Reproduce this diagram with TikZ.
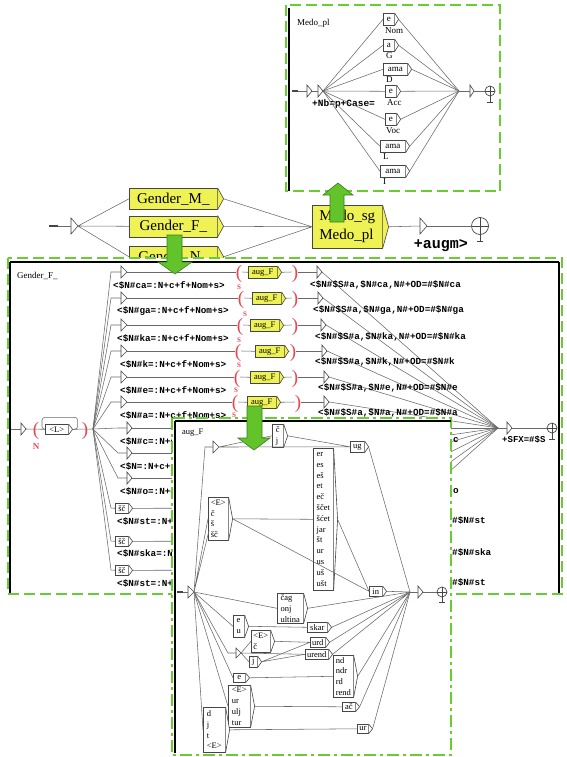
\documentclass[tikz,border=0pt]{standalone}
\usepackage{fontspec}
\setmainfont{Liberation Serif}
\newfontfamily\lmono{Liberation Mono}
\usetikzlibrary{calc}
\definecolor{frg}{RGB}{104,206,48}
\definecolor{arg}{RGB}{98,196,42}
\definecolor{ard}{RGB}{60,125,28}
\definecolor{ylw}{RGB}{238,242,85}
\definecolor{bxc}{RGB}{70,70,70}
\definecolor{lnc}{RGB}{105,105,105}
\definecolor{rdc}{RGB}{232,70,80}
\newcommand{\ot}{\lmono\bfseries\fontsize{9.3}{10}\selectfont}
\newcommand{\bt}{\fontsize{8.5}{10.8}\selectfont}
\newcommand{\bigt}{\fontsize{15}{19}\selectfont}
\newcommand{\mdt}{\fontsize{9}{10}\selectfont}
\def\chw{4pt}
\tikzset{
  ln/.style={draw=lnc, line width=0.55pt},
  bx/.style={draw=bxc, line width=0.6pt, inner sep=0.5pt, align=left, font=\bt, anchor=north west},
  otx/.style={font=\ot, inner sep=0pt, anchor=west},
  lbl/.style={font=\fontsize{9}{10}\selectfont, inner sep=0pt, anchor=north west},
  frm/.style={draw=frg, line width=2pt, dash pattern=on 11pt off 5pt, fill=white},
  frmdd/.style={draw=frg, line width=2pt, dash pattern=on 12pt off 4pt on 3pt off 4pt, fill=white},
  win/.style={draw=black, line width=1.2pt},
  garr/.style={fill=arg, draw=ard, line width=0.6pt},
  rpar/.style={text=rdc, font=\fontsize{19}{19}\selectfont, inner sep=0pt},
  rS/.style={text=rdc, font=\bfseries\fontsize{7}{7}\selectfont, inner sep=0pt},
}
% box with chevron: [style]{name}{x0}{y0}{w}{h}{text}
\newcommand{\UB}[7][fill=white]{%
  \node[bx, #1, minimum width=#5pt, minimum height=#6pt] (#2) at (#3,#4) {#7};
  \draw[draw=bxc, line width=0.6pt, fill=white, #1] (#2.north east) -- ([xshift=\chw]#2.east) -- (#2.south east);
  \coordinate (#2-o) at ([xshift=\chw]#2.east);
}
% epsilon triangle: {name}{x}{y}{w}{h}
\newcommand{\ET}[5]{%
  \coordinate (#1) at (#2,#3);
  \coordinate (#1-o) at ({#2+#4},#3);
  \draw[draw=bxc, line width=0.6pt, fill=white] (#2,{#3-#5}) -- (#1-o) -- (#2,{#3+#5}) -- cycle;
}
% final state: {name}{x}{y}{r}{stem}
\newcommand{\FS}[5]{%
  \coordinate (#1) at ({#2-#4},#3);
  \draw[draw=bxc, line width=0.7pt, fill=white] (#2,#3) circle[radius=#4pt];
  \draw[draw=bxc, line width=0.7pt] ({#2-#4},#3) -- ({#2+#4},#3) (#2,{#3-#4}) -- (#2,{#3+#4+#5}) ({#2-3},{#3+#4+#5}) -- ({#2+3},{#3+#4+#5});
}
\begin{document}
\begin{tikzpicture}[x=1pt,y=-1pt]
\fill[white] (0,0) rectangle (567,757);
\useasboundingbox (0,0) rectangle (567,757);

% ================= main graph =================
\def\chw{6pt}
\UB[fill=ylw, font=\bigt]{gm}{129}{188}{88}{21}{Gender\_M\_}
\UB[fill=ylw, font=\bigt]{gf}{129}{215.5}{88}{21}{Gender\_F\_}
\UB[fill=ylw, font=\bigt]{gn}{129}{246}{88}{21}{Gender\_N\_}
\UB[fill=ylw, font=\bigt]{medo}{312}{205}{70}{43}{Medo\_sg\\Medo\_pl}
\coordinate (m0) at (49,226);
\coordinate (m1) at (58,226);
\draw[draw=bxc, line width=1.6pt] (m0) -- (m1);
\ET{mt}{71}{226}{7}{8}
\draw[ln] (m1) -- (mt);
\draw[ln] (mt-o) -- (gm.west) (mt-o) -- (gf.west) (mt-o) -- (gn.west);
\draw[ln] (gm-o) -- (medo.west) (gf-o) -- (medo.west) (gn-o) -- (medo.west);
\ET{mt2}{420}{226}{7}{8}
\draw[ln] (medo-o) -- (mt2);
\FS{mf}{480}{226}{8.5}{7}
\draw[ln] (mt2-o) -- (mf);
\node[font=\lmono\bfseries\fontsize{15}{15}\selectfont, anchor=east, inner sep=0pt] (augm) at (468,246) {+augm>};

% ================= Medo_pl window =================
\def\chw{4pt}
\draw[frm] (286,5.5) rectangle (500,191);
\draw[win] (289,8) -- (289,191);
\node[lbl, anchor=west] (tmedo) at (297,23) {Medo\_pl};
\coordinate (p0) at (292,91);
\coordinate (p1) at (298,91);
\draw[draw=bxc, line width=1.6pt] (p0) -- (p1);
\ET{pt1}{307}{91}{5}{6}
\ET{pt2}{318}{91}{5}{6}
\draw[ln] (p1) -- (pt1) (pt1-o) -- (pt2);
\node[font=\lmono\bfseries\fontsize{9.5}{10}\selectfont, inner sep=0pt, anchor=west] (nbp) at (312,104) {+Nb=p+Case=};
\UB[font=\mdt]{pe1}{383}{13}{11}{12}{e}
\UB[font=\mdt]{pa}{383}{39}{11}{12}{a}
\UB[font=\mdt]{pama1}{383}{63}{24}{12}{ama}
\UB[font=\mdt]{pe2}{385}{85}{11}{12}{e}
\UB[font=\mdt]{pe3}{385}{113}{11}{12}{e}
\UB[font=\mdt]{pama2}{380}{140}{25}{12}{ama}
\UB[font=\mdt]{pama3}{380}{165}{25}{12}{ama}
\node[lbl] (lnom) at (385,27) {Nom};
\node[lbl] (lg) at (386,52) {G};
\node[lbl] (ld) at (386,76) {D};
\node[lbl] (lacc) at (387,99) {Acc};
\node[lbl] (lvoc) at (386,127) {Voc};
\node[lbl] (ll) at (383,153) {L};
\node[lbl] (li) at (383,178) {I};
\coordinate (pc) at (459,91);
\foreach \b in {pe1,pa,pama1,pe2,pe3,pama2,pama3}{
  \draw[ln] (pt2-o) -- (\b.west);
  \draw[ln] (\b-o) -- (pc);
}
\ET{pt3}{470}{91}{4}{6}
\draw[ln] (pc) -- (pt3);
\FS{pf}{490}{91}{5}{6}
\draw[ln] (pt3-o) -- (pf);

% ================= Gender_F_ window =================
\draw[frm] (8,258) rectangle (562,594);
\draw[win] (10,262) -- (559,262);
\draw[win] (10,262) -- (10,593);
\draw[win] (559,262) -- (559,593);
\node[lbl, anchor=west] (tgf) at (17,276) {Gender\_F\_};
\coordinate (g0) at (11,429);
\ET{ge}{21}{429}{5}{6}
\draw[ln] (g0) -- (ge);
\UB{gL}{45}{424}{23}{10}{<L>}
\draw[ln] (ge-o) -- (gL.west);
\draw[ln, rounded corners=3pt] (gL-o) -- ++(5,0) |- ($(gL.west)+(-3,-12)$) |- (gL.west);
\coordinate (gfan) at (93,429);
\draw[ln] (gL-o) -- (gfan);
\node[rpar] (gp1) at (36,431) {(};
\node[rpar] (gp2) at (85,431) {)};
\node[text=rdc, font=\bfseries\fontsize{9}{9}\selectfont, inner sep=0pt] (gN) at (36,447) {N};
\coordinate (gc) at (498,428);

% rows 1-6
\foreach \i/\y/\bx/\lp/\rp/\rx in {1/272/248/239/295/317, 2/298/252/241/295/318, 3/325/250/240/295/321, 4/351/255/238/293/322, 5/377/250/237/295/324, 6/402/247/235/298/324}{
  \coordinate (s\i) at (111,\y);
  \ET{t\i}{121}{\y}{6}{6}
  \draw[ln] (gfan) -- (s\i) -- (t\i);
  \UB[fill=ylw]{ag\i}{\bx}{\y-6}{29}{12}{aug\_F}
  \node[rpar] (lp\i) at (\lp,\y+2) {(};
  \node[rpar] (rp\i) at (\rp,\y+2) {)};
  \ET{r\i}{\rx}{\y}{5}{6}
  \draw[ln] (t\i-o) -- (lp\i.west |- t\i-o);
  \draw[ln] (lp\i.east |- t\i-o) -- (ag\i.west);
  \draw[ln] (ag\i-o) -- (rp\i.west |- t\i-o);
  \draw[ln] (rp\i.east |- t\i-o) -- (r\i);
  \draw[ln] (r\i-o) -- (gc);
}
\node[rS] (S2) at (239,287) {S};
\node[rS] (S3) at (245,314) {S};
\node[rS] (S4) at (239,340) {S};
\node[rS] (S5) at (239,365) {S};
\node[rS] (S6) at (236,390) {S};
\node[rS] (S7) at (234,415) {S};
% rows 7-9
\foreach \i/\y in {7/428, 8/453, 9/478}{
  \coordinate (s\i) at (118,\y);
  \ET{t\i}{127}{\y}{5}{6}
  \draw[ln] (gfan) -- (s\i) -- (t\i);
  \ET{r\i}{322}{\y}{5}{6}
  \draw[ln] (t\i-o) -- (r\i);
  \draw[ln] (r\i-o) -- (gc);
}
% rows 10-12
\foreach \i/\y in {10/508, 11/541, 12/570}{
  \coordinate (s\i) at (111,\y);
  \UB{b\i}{115}{\y-5}{13}{10}{šč}
  \draw[ln] (gfan) -- (s\i) -- (b\i.west);
  \ET{r\i}{335}{\y}{5}{6}
  \draw[ln] (b\i-o) -- (r\i);
  \draw[ln] (r\i-o) -- (gc);
}
% left outputs
\node[otx] (lt1) at (113,285) {<\$N\#ca=:N+c+f+Nom+s>};
\node[otx] (lt2) at (117,311) {<\$N\#ga=:N+c+f+Nom+s>};
\node[otx] (lt3) at (117,338) {<\$N\#ka=:N+c+f+Nom+s>};
\node[otx] (lt4) at (120,364) {<\$N\#k=:N+c+f+Nom+s>};
\node[otx] (lt5) at (120,390) {<\$N\#e=:N+c+f+Nom+s>};
\node[otx] (lt6) at (120,415) {<\$N\#a=:N+c+f+Nom+s>};
\node[otx] (lt7) at (120,441) {<\$N\#c=:N+c};
\node[otx] (lt8) at (120,466) {<\$N=:N+c+};
\node[otx] (lt9) at (120,491) {<\$N\#o=:N+c};
\node[otx] (lt10) at (117,521) {<\$N\#st=:N+};
\node[otx] (lt11) at (117,553) {<\$N\#ska=:N};
\node[otx] (lt12) at (117,583) {<\$N\#st=:N+};
% right outputs
\node[otx] (rt1) at (310,285) {<\$N\#\$S\#a,\$N\#ca,N\#+OD=\#\$N\#ca};
\node[otx] (rt2) at (313,310) {<\$N\#\$S\#a,\$N\#ga,N\#+OD=\#\$N\#ga};
\node[otx] (rt3) at (315,337) {<\$N\#\$S\#a,\$N\#ka,N\#+OD=\#\$N\#ka};
\node[otx] (rt4) at (315,362) {<\$N\#\$S\#a,\$N\#k,N\#+OD=\#\$N\#k};
\node[otx] (rt5) at (318,388) {<\$N\#\$S\#a,\$N\#e,N\#+OD=\#\$N\#e};
\node[otx] (rt6) at (318,413) {<\$N\#\$S\#a,\$N\#a,N\#+OD=\#\$N\#a};
\node[otx] (rt7) at (453,440) {c};
\node[otx] (rt9) at (453,491) {o};
\node[otx] (rt10) at (452,520) {\#\$N\#st};
\node[otx] (rt11) at (452,552) {\#\$N\#ska};
\node[otx] (rt12) at (452,582) {\#\$N\#st};
\ET{gft}{507}{428}{5}{6}
\draw[ln] (gc) -- (gft);
\FS{gff}{552}{428}{5}{6}
\draw[ln] (gft-o) -- (gff);
\node[otx, font=\lmono\bfseries\fontsize{9}{10}\selectfont] (sfx) at (502,440) {+SFX=\#\$S};

% ================= aug_F window =================
\draw[frmdd] (172,418) rectangle (451,755);
\draw[win] (175,421) -- (451,421);
\draw[win] (175,421) -- (175,753);
\node[lbl, anchor=west, font=\fontsize{8.5}{10}\selectfont] (taug) at (182,433) {aug\_F};
\coordinate (a0) at (177,592);
\coordinate (a1) at (183,592);
\draw[draw=bxc, line width=1.6pt] (a0) -- (a1);
\ET{ai}{188}{592}{6}{6}
\draw[ln] (a1) -- (ai);
\coordinate (at1s) at (205,447);
\ET{at1}{213}{447}{6}{6}
\UB{acj}{272}{424}{11}{23}{č\\j}
\UB{aug}{350}{441}{14}{11}{ug}
\UB{aEa}{208}{497}{20}{43}{<E>\\č\\š\\šč}
\UB{abig}{313}{448}{20}{142}{er\\es\\eš\\et\\eč\\ščet\\šćet\\jar\\št\\ur\\us\\uš\\ušt}
\UB{ain}{369}{586}{13}{10}{in}
\UB{acag}{277}{593}{26}{30}{čag\\onj\\ultina}
\UB{aeu}{233}{615}{11}{22}{e\\u}
\UB{askar}{307}{622}{20}{10}{skar}
\UB{aEc}{251}{630}{19}{22}{<E>\\č}
\UB{aurd}{310}{637}{15}{10}{urd}
\coordinate (at2s) at (228,653);
\ET{at2}{236}{653}{5}{5}
\UB{aj}{249}{656}{8}{11}{j}
\UB{aurend}{305}{649}{23}{10}{urend}
\UB{aee}{233}{673}{12}{9}{e}
\UB{andr}{333}{655}{20}{42}{nd\\ndr\\rd\\rend}
\UB{aEur}{228}{685}{22}{42}{<E>\\ur\\ulj\\tur}
\UB{aac}{342}{702}{13}{9}{ač}
\UB{adjt}{203}{707}{22}{45}{d\\j\\t\\<E>}
\UB{aur}{357}{724}{11}{9}{ur}
\coordinate (af1) at (410,592);
\ET{aft}{418}{592}{5}{6}
\FS{aff}{442}{592}{5}{5}
% connectors
\draw[ln] (ai-o) -- (at1s) -- (at1);
\draw[ln] (at1-o) -- (acj.west) (at1-o) -- (aug.west) (acj-o) -- (aug.west);
\draw[ln] (aug-o) -- (af1);
\draw[ln] (ai-o) -- (aEa.west) (ai-o) -- ($(aEa.south west)+(1,-10)$);
\draw[ln] (aEa-o) -- (abig.west) (aEa-o) -- (ain.west) (abig-o) -- (ain.west) (ain-o) -- (af1);
\draw[ln] (ai-o) -- (acag.west) (acag-o) -- (af1);
\draw[ln] (ai-o) -- (aeu.west) (aeu-o) -- (askar.west) (askar-o) -- (af1);
\draw[ln] (ai-o) -- (at2s) -- (at2);
\draw[ln] (at2-o) -- (aEc.west) (at2-o) -- (aj.west) (at2-o) -- (aurend.west);
\draw[ln] (aEc-o) -- (aurd.west) (aj-o) -- (aurd.west) (aj-o) -- (aurend.west);
\draw[ln] (aurd-o) -- (af1) (aurend-o) -- (af1);
\draw[ln] (ai-o) -- (aee.west) (aee-o) -- (andr.west) (andr-o) -- (af1);
\draw[ln] (ai-o) -- (aEur.west) (aEur-o) -- (aac.west) (aac-o) -- (af1);
\draw[ln] (ai-o) -- (adjt.west) (adjt-o) -- (aur.west) (aur-o) -- (af1);
\draw[ln] (af1) -- (aft) (aft-o) -- (aff);

% ================= green arrows =================
\path[garr] (330,222) -- (330,195) -- (323,195) -- (338,183) -- (353,195) -- (344,195) -- (344,222) -- cycle;
\path[garr] (167,235) -- (167,262) -- (158,262) -- (175,274) -- (192,262) -- (182,262) -- (182,235) -- cycle;
\path[garr] (247,406) -- (247,438) -- (238,438) -- (254,450) -- (270,438) -- (262,438) -- (262,406) -- cycle;
\end{tikzpicture}
\end{document}
